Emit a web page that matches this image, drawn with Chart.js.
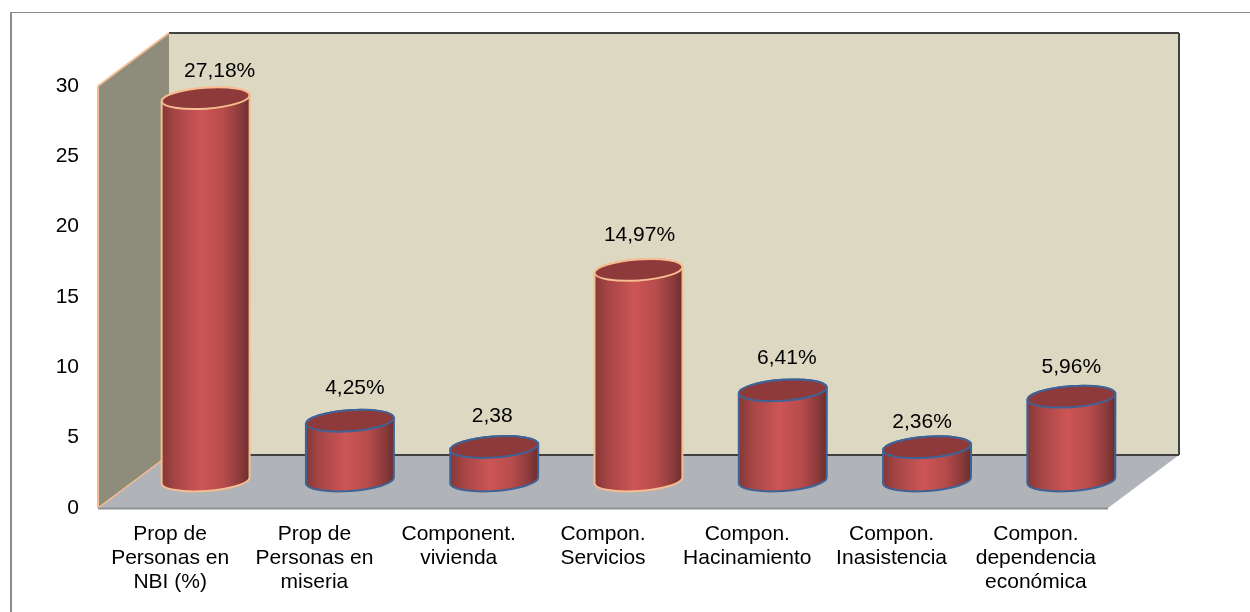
<!DOCTYPE html>
<html lang="es">

<head>
    <title>Grafico</title>
    <meta charset="utf-8">
    <style>
        html, body { margin: 0; padding: 0; background: #fff; }
        #box { position: relative; width: 1250px; height: 612px; }
    </style>
    <script src="https://cdnjs.cloudflare.com/ajax/libs/Chart.js/4.4.1/chart.umd.js"></script>
</head>

<body>
    <div id="box"><canvas id="myChart" width="1250" height="612"></canvas></div>
    <script>
        var categories = [
            ['Prop de', 'Personas en', 'NBI (%)'],
            ['Prop de', 'Personas en', 'miseria'],
            ['Component.', 'vivienda'],
            ['Compon.', 'Servicios'],
            ['Compon.', 'Hacinamiento'],
            ['Compon.', 'Inasistencia'],
            ['Compon.', 'dependencia', 'económica']
        ];
        var values = [27.18, 4.25, 2.38, 14.97, 6.41, 2.36, 5.96];
        var valueLabels = ['27,18%', '4,25%', '2,38', '14,97%', '6,41%', '2,36%', '5,96%'];

        // the labels were dragged by hand in the original, so each has its own nudge
        var labelNudge = [[14, -27], [5, -33], [-2, -31], [1, -35], [4, -32], [-5, -25], [0, -29]];
        var edgeColors = ['#f5bd90', '#3f6396', '#3f6396', '#f5bd90', '#3f6396', '#3f6396', '#3f6396'];

        var depthX = 71, depthY = -53;
        var fontName = '"Liberation Sans", Arial, sans-serif';

        function poly(c, pts, fill) {
            c.beginPath();
            c.moveTo(pts[0][0], pts[0][1]);
            for (var i = 1; i < pts.length; i++) c.lineTo(pts[i][0], pts[i][1]);
            c.closePath();
            c.fillStyle = fill;
            c.fill();
        }

        function seg(c, x1, y1, x2, y2, color, w) {
            c.beginPath();
            c.moveTo(x1, y1);
            c.lineTo(x2, y2);
            c.strokeStyle = color;
            c.lineWidth = w;
            c.stroke();
        }

        var walls = {
            id: 'walls',
            beforeDatasetsDraw: function (chart) {
                var c = chart.ctx, a = chart.chartArea;
                var l = a.left, r = a.right, t = a.top, b = a.bottom;
                c.save();
                poly(c, [[l + depthX, t + depthY], [r + depthX, t + depthY], [r + depthX, b + depthY], [l + depthX, b + depthY]], '#ddd8c2');
                poly(c, [[l, t], [l + depthX, t + depthY], [l + depthX, b + depthY], [l, b]], '#8e8c7b');
                poly(c, [[l, b], [l + depthX, b + depthY], [r + depthX, b + depthY], [r, b]], '#b0b3b8');
                seg(c, l + depthX, t + depthY, r + depthX, t + depthY, '#404040', 2);
                seg(c, r + depthX, t + depthY, r + depthX, b + depthY, '#404040', 2);
                seg(c, l + depthX, b + depthY, r + depthX, b + depthY, '#404040', 2);
                seg(c, l, t, l + depthX, t + depthY, '#f5bd90', 2);
                seg(c, l, t, l, b, '#f5bd90', 2);
                seg(c, l, b, l + depthX, b + depthY, '#f5bd90', 1.5);
                seg(c, l, b + 0.5, r, b + 0.5, '#8f9094', 2);
                c.restore();
            }
        };

        // draws a cylinder over each (invisible) bar element, half way back in the depth
        var cylinders = {
            id: 'cylinders',
            afterDatasetsDraw: function (chart) {
                var c = chart.ctx;
                var bars = chart.getDatasetMeta(0).data;
                var tilt = -0.07;
                var ry = 10.5;
                bars.forEach(function (bar, i) {
                    var x = bar.x + depthX / 2;
                    var top = bar.y + depthY / 2 - 1;
                    var base = bar.base + depthY / 2 - 1;
                    var rx = bar.width / 2;
                    var lift = rx * Math.sin(tilt);

                    var grad = c.createLinearGradient(x - rx, 0, x + rx, 0);
                    grad.addColorStop(0, '#853737');
                    grad.addColorStop(0.15, '#a64545');
                    grad.addColorStop(0.45, '#cd5555');
                    grad.addColorStop(0.7, '#b84c4c');
                    grad.addColorStop(0.9, '#8a3a3a');
                    grad.addColorStop(1, '#6a2e2e');

                    c.save();
                    c.beginPath();
                    c.moveTo(x - rx, top - lift);
                    c.lineTo(x - rx, base - lift);
                    c.ellipse(x, base, rx, ry, tilt, Math.PI, 0, true);
                    c.lineTo(x + rx, top + lift);
                    c.ellipse(x, top, rx, ry, tilt, 0, Math.PI, true);
                    c.closePath();
                    c.fillStyle = grad;
                    c.fill();
                    c.strokeStyle = edgeColors[i];
                    c.lineWidth = 2;
                    c.stroke();

                    c.beginPath();
                    c.ellipse(x, top, rx, ry, tilt, 0, Math.PI * 2);
                    c.fillStyle = '#8e3a3a';
                    c.fill();
                    c.stroke();

                    c.fillStyle = '#000';
                    c.font = '21px ' + fontName;
                    c.textAlign = 'center';
                    c.textBaseline = 'middle';
                    c.fillText(valueLabels[i], x + labelNudge[i][0], top + labelNudge[i][1]);
                    c.restore();
                });
            }
        };

        // the original only has a line along the top and the left
        var frame = {
            id: 'frame',
            beforeDraw: function (chart) {
                var c = chart.ctx;
                c.save();
                seg(c, 11, 12, 11, 612, '#8c8c8c', 2);
                seg(c, 10, 12.5, 1250, 12.5, '#8c8c8c', 1);
                c.restore();
            }
        };

        new Chart(document.getElementById('myChart').getContext('2d'), {
            type: 'bar',
            data: {
                labels: categories,
                datasets: [{
                    label: 'NBI',
                    data: values,
                    backgroundColor: 'rgba(0,0,0,0)',
                    borderWidth: 0,
                    categoryPercentage: 1,
                    barPercentage: 0.61
                }]
            },
            plugins: [frame, walls, cylinders],
            options: {
                responsive: false,
                animation: false,
                layout: { padding: { top: 86, right: 142 } },
                plugins: { legend: { display: false }, title: { display: false }, tooltip: { enabled: false } },
                scales: {
                    x: {
                        grid: { display: false },
                        border: { display: false },
                        afterFit: function (s) { s.height = 104; },
                        ticks: {
                            color: '#000',
                            padding: 6,
                            autoSkip: false,
                            maxRotation: 0,
                            font: { family: fontName, size: 21, lineHeight: 1.143 }
                        }
                    },
                    y: {
                        min: 0,
                        max: 30,
                        grid: { display: false },
                        border: { display: false },
                        afterFit: function (s) { s.width = 98; },
                        ticks: {
                            color: '#000',
                            stepSize: 5,
                            padding: 11,
                            font: { family: fontName, size: 21 }
                        }
                    }
                }
            }
        });
    </script>
</body>

</html>
